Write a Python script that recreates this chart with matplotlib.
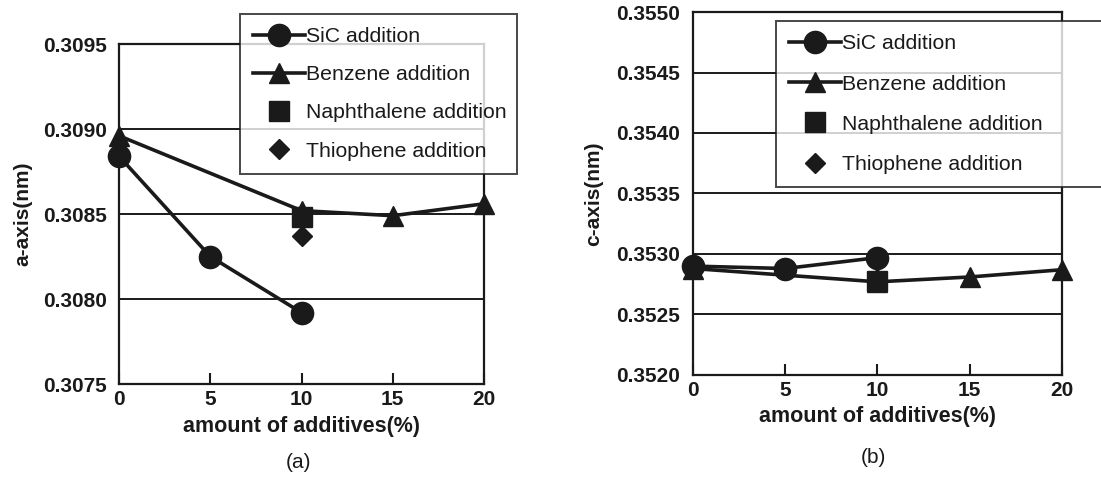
import numpy as np
import matplotlib
matplotlib.use("Agg")
import matplotlib.pyplot as plt

plt.rcParams['font.family'] = ['Liberation Sans', 'DejaVu Sans']
plt.rcParams['text.color'] = '#1a1a1a'
plt.rcParams['axes.labelcolor'] = '#1a1a1a'

# data
sic_x = [0, 5, 10]
benz_x = [0, 10, 15, 20]
naph_x = [10]
thio_x = [10]

a_sic = [0.30884, 0.30825, 0.30792]
a_benz = [0.30896, 0.30852, 0.30849, 0.30856]
a_naph = [0.30848]
a_thio = [0.30837]

c_sic = [0.35290, 0.35288, 0.35297]
c_benz = [0.35288, 0.35277, 0.35281, 0.35287]
c_naph = [0.35278]
c_thio = [0.35279]

xticks = [0, 5, 10, 15, 20]
a_ticks = [0.3075, 0.3080, 0.3085, 0.3090, 0.3095]
c_ticks = [0.3520, 0.3525, 0.3530, 0.3535, 0.3540, 0.3545, 0.3550]

labels = ["SiC addition", "Benzene addition", "Naphthalene addition", "Thiophene addition"]

fig = plt.figure(figsize=(11.01, 4.82), dpi=100)
ax1 = fig.add_axes([0.1081, 0.2033, 0.3315, 0.7054])
ax2 = fig.add_axes([0.6294, 0.222, 0.3351, 0.7531])

col = '#1a1a1a'


def draw(ax, sic, benz, naph, thio, yt, ylab):
    ax.plot(sic_x, sic, '-o', color=col, lw=2.6, ms=16, zorder=4, clip_on=False)
    ax.plot(benz_x, benz, '-^', color=col, lw=2.6, ms=15, zorder=3, clip_on=False)
    ax.plot(naph_x, naph, 's', color=col, ms=14, zorder=5, clip_on=False)
    ax.plot(thio_x, thio, 'D', color=col, ms=10, zorder=5, clip_on=False)
    ax.set_xlim(0, 20)
    ax.set_ylim(yt[0], yt[-1])
    ax.set_xticks(xticks)
    ax.set_yticks(yt)
    ax.set_yticklabels([f"{v:.4f}" for v in yt])
    for v in yt[1:-1]:
        ax.axhline(v, color=col, lw=1.4, zorder=1)
    for s in ax.spines.values():
        s.set_linewidth(1.6)
        s.set_color(col)
    ax.tick_params(axis='x', direction='in', length=8, width=1.5, pad=4,
                   labelsize=15, colors=col)
    ax.tick_params(axis='y', length=0, pad=9, labelsize=15, colors=col)
    for t in ax.get_xticklabels() + ax.get_yticklabels():
        t.set_fontweight('bold')
    ax.set_xlabel("amount of additives(%)", fontsize=15.5, fontweight='bold', labelpad=5)
    ax.set_ylabel(ylab, fontsize=15, fontweight='bold')


draw(ax1, a_sic, a_benz, a_naph, a_thio, a_ticks, "a-axis(nm)")
draw(ax2, c_sic, c_benz, c_naph, c_thio, c_ticks, "c-axis(nm)")

ax1.yaxis.set_label_coords(-0.238, 0.5)
ax2.yaxis.set_label_coords(-0.243, 0.5)


def add_legend(ax, box, spacing):
    h = ax.get_lines()[:4]
    leg = fig.legend(h, labels, loc='upper left', bbox_to_anchor=box,
                     bbox_transform=fig.transFigure, mode='expand',
                     fontsize=15.3, frameon=True, fancybox=False,
                     handlelength=2.45, handletextpad=0.05, labelspacing=spacing,
                     borderpad=0.62, borderaxespad=0)
    leg.get_frame().set_edgecolor(col)
    leg.get_frame().set_linewidth(1.4)
    return leg


add_legend(ax1, (0.218, 0.647, 0.2516, 0.324), 0.9)
add_legend(ax2, (0.7048, 0.618, 0.31, 0.338), 1.0)

fig.text(0.2707, 0.041, "(a)", fontsize=15, ha='center', va='center')
fig.text(0.793, 0.05, "(b)", fontsize=15, ha='center', va='center')

fig.savefig("out.png", dpi=100)
